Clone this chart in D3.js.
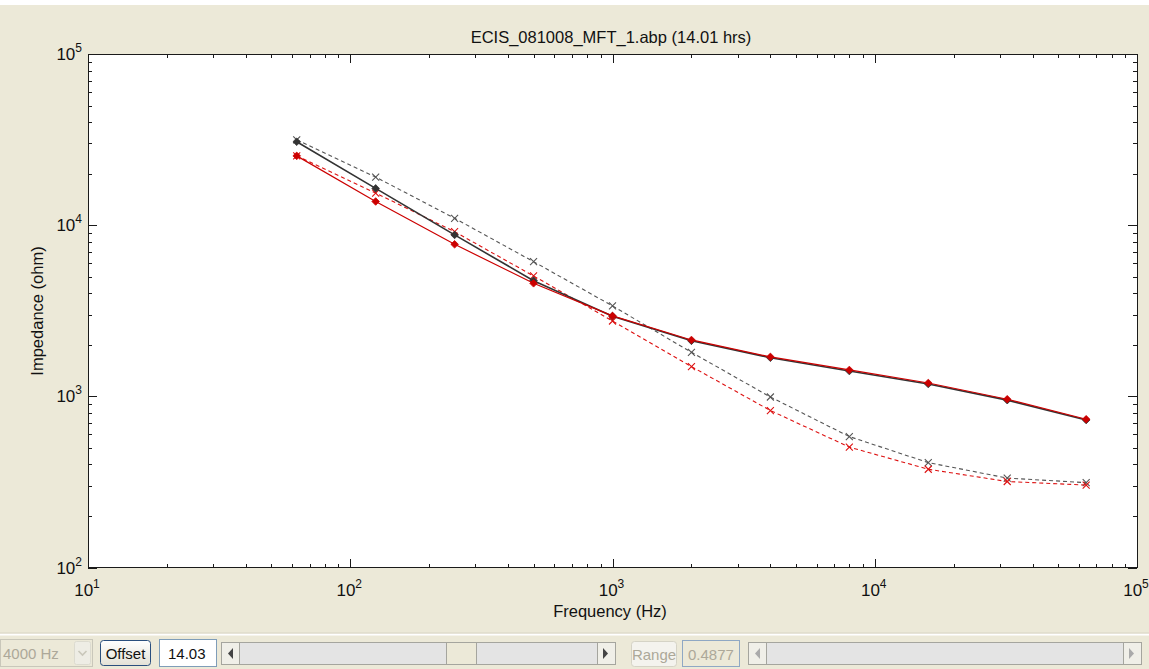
<!DOCTYPE html>
<html>
<head>
<meta charset="utf-8">
<script src="https://cdn.jsdelivr.net/npm/d3@7"></script>
<style>
  html, body { margin: 0; padding: 0; background: #ECE9D8; }
  svg { display: block; }
  text { font-family: "Liberation Sans", Arial, sans-serif; }
</style>
</head>
<body>
<svg id="chart" width="1149" height="669"></svg>
<script>
// ---- data ----
const frequencies = [62.5, 125, 250, 500, 1000, 2000, 4000, 8000, 16000, 32000, 64000];
const blackSolid = [30700, 16400, 8770, 4740, 2940, 2110, 1680, 1405, 1180, 950, 727];
const redSolid   = [25400, 13750, 7730, 4575, 2950, 2135, 1700, 1426, 1197, 962, 735];
const blackDash  = [31500, 19100, 10970, 6120, 3375, 1808, 991, 582, 410, 333, 313];
const redDash    = [25400, 15400, 9160, 5050, 2755, 1492, 826, 505, 375, 318, 303];
const xDecades = [1, 2, 3, 4, 5];
const yDecades = [2, 3, 4, 5];
const titleText = "ECIS_081008_MFT_1.abp (14.01 hrs)";
const xLabel = "Frequency (Hz)";
const yLabel = "Impedance (ohm)";

const series = [
  { name: "blackDash", values: blackDash, color: "#555555", dash: "4,3", marker: "x", w: 1.1 },
  { name: "redDash", values: redDash, color: "#dd1111", dash: "4,3", marker: "x", w: 1.1 },
  { name: "blackSolid", values: blackSolid, color: "#333333", dash: null, marker: "d", w: 1.6 },
  { name: "redSolid", values: redSolid, color: "#cc0000", dash: null, marker: "d", w: 1.2 }
];

const svg = d3.select("#chart");
svg.append("rect").attr("x", 0).attr("y", 0).attr("width", 1149).attr("height", 5).attr("fill", "#ffffff");

const L = 88, R = 1137, T = 54, B = 567.5;
const x = d3.scaleLog().domain([10, 1e5]).range([L, R]);
const y = d3.scaleLog().domain([100, 1e5]).range([B, T]);

svg.append("rect").attr("x", L).attr("y", T).attr("width", R - L).attr("height", B - T).attr("fill", "#ffffff");

function minors(d0, d1) {
  const out = [];
  for (let e = d0; e < d1; e++) for (let m = 2; m <= 9; m++) out.push(m * Math.pow(10, e));
  return out;
}
const xMajor = xDecades.map(e => Math.pow(10, e));
const yMajor = yDecades.map(e => Math.pow(10, e));
const xMinor = minors(1, 5);
const yMinor = minors(2, 5);

const axisColor = "#1a1a1a";
function styleAxis(g) {
  g.select(".domain").remove();
  g.selectAll(".tick line").attr("stroke", axisColor).attr("shape-rendering", "crispEdges");
  g.selectAll(".tick text").remove();
}
svg.append("g").attr("transform", `translate(0,${B})`).call(d3.axisBottom(x).tickValues(xMinor).tickSize(-4).tickFormat("")).call(styleAxis);
svg.append("g").attr("transform", `translate(0,${B})`).call(d3.axisBottom(x).tickValues(xMajor).tickSize(-9).tickFormat("")).call(styleAxis);
svg.append("g").attr("transform", `translate(0,${T})`).call(d3.axisTop(x).tickValues(xMinor).tickSize(-4).tickFormat("")).call(styleAxis);
svg.append("g").attr("transform", `translate(0,${T})`).call(d3.axisTop(x).tickValues(xMajor).tickSize(-9).tickFormat("")).call(styleAxis);
svg.append("g").attr("transform", `translate(${L},0)`).call(d3.axisLeft(y).tickValues(yMinor).tickSize(-4).tickFormat("")).call(styleAxis);
svg.append("g").attr("transform", `translate(${L},0)`).call(d3.axisLeft(y).tickValues(yMajor).tickSize(-9).tickFormat("")).call(styleAxis);
svg.append("g").attr("transform", `translate(${R},0)`).call(d3.axisRight(y).tickValues(yMinor).tickSize(-4).tickFormat("")).call(styleAxis);
svg.append("g").attr("transform", `translate(${R},0)`).call(d3.axisRight(y).tickValues(yMajor).tickSize(-9).tickFormat("")).call(styleAxis);

svg.append("rect").attr("x", L).attr("y", T).attr("width", R - L).attr("height", B - T)
  .attr("fill", "none").attr("stroke", axisColor).attr("shape-rendering", "crispEdges");

xDecades.forEach(e => {
  const t = svg.append("text").attr("x", x(Math.pow(10, e)) - 1).attr("y", 596)
    .attr("text-anchor", "middle").attr("font-size", 17).attr("fill", "#111");
  t.append("tspan").text("10");
  t.append("tspan").attr("font-size", 12).attr("dy", -8).text(e);
});
yDecades.forEach(e => {
  const t = svg.append("text").attr("x", 82).attr("y", y(Math.pow(10, e)) + 6)
    .attr("text-anchor", "end").attr("font-size", 17).attr("fill", "#111");
  t.append("tspan").text("10");
  t.append("tspan").attr("font-size", 12).attr("dy", -8).text(e);
});

svg.append("text").attr("x", 611).attr("y", 43).attr("text-anchor", "middle")
  .attr("font-size", 16.5).attr("fill", "#111").text(titleText);
svg.append("text").attr("x", 610).attr("y", 617).attr("text-anchor", "middle")
  .attr("font-size", 16.5).attr("fill", "#111").text(xLabel);
svg.append("text").attr("transform", "translate(43,311) rotate(-90)").attr("text-anchor", "middle")
  .attr("font-size", 16.5).attr("fill", "#111").text(yLabel);

const line = d3.line().x(d => x(d[0])).y(d => y(d[1]));
series.forEach(s => {
  const pts = frequencies.map((f, i) => [f, s.values[i]]);
  svg.append("path").datum(pts).attr("d", line).attr("fill", "none")
    .attr("stroke", s.color).attr("stroke-width", s.w)
    .attr("stroke-dasharray", s.dash);
  const g = svg.append("g");
  pts.forEach(p => {
    const cx = x(p[0]), cy = y(p[1]);
    if (s.marker === "x") {
      const r = 3.5;
      g.append("path").attr("d", `M${cx - r},${cy - r}L${cx + r},${cy + r}M${cx - r},${cy + r}L${cx + r},${cy - r}`)
        .attr("stroke", s.color).attr("stroke-width", 1.1).attr("fill", "none");
    } else {
      const r = 3.8;
      g.append("path").attr("d", `M${cx},${cy - r}L${cx + r},${cy}L${cx},${cy + r}L${cx - r},${cy}Z`)
        .attr("fill", s.color).attr("stroke", s.color).attr("stroke-width", 0.8);
    }
  });
});

// ---- bottom control panel ----
const panel = svg.append("g");
panel.append("line").attr("x1", 0).attr("x2", 1149).attr("y1", 634.5).attr("y2", 634.5).attr("stroke", "#ffffff").attr("stroke-width", 2);
panel.append("line").attr("x1", 0).attr("x2", 1149).attr("y1", 633).attr("y2", 633).attr("stroke", "#d8d4c4").attr("stroke-width", 1);

panel.append("rect").attr("x", 0.5).attr("y", 639.5).attr("width", 92).attr("height", 27).attr("fill", "#ECE9D8").attr("stroke", "#c9c7ba");
panel.append("rect").attr("x", 74.5).attr("y", 641.5).attr("width", 16).attr("height", 23).attr("rx", 2).attr("fill", "#eeede5").attr("stroke", "#dcdbd0");
panel.append("path").attr("d", "M78.5,651 L82.5,655 L86.5,651").attr("fill", "none").attr("stroke", "#c9c7ba").attr("stroke-width", 1.6);
panel.append("text").attr("x", 3).attr("y", 659).attr("font-size", 15).attr("fill", "#aca899").text("4000 Hz");

const btnGrad = svg.append("defs").append("linearGradient").attr("id", "btn").attr("x1", 0).attr("x2", 0).attr("y1", 0).attr("y2", 1);
btnGrad.append("stop").attr("offset", "0%").attr("stop-color", "#ffffff");
btnGrad.append("stop").attr("offset", "100%").attr("stop-color", "#e3e1d6");
panel.append("rect").attr("x", 100.5).attr("y", 640.5).attr("width", 50).attr("height", 25).attr("rx", 3).attr("fill", "url(#btn)").attr("stroke", "#2a4f7e");
panel.append("text").attr("x", 125.5).attr("y", 659).attr("text-anchor", "middle").attr("font-size", 15).attr("fill", "#111").text("Offset");

panel.append("rect").attr("x", 159.5).attr("y", 639.5).attr("width", 57).attr("height", 27).attr("fill", "#ffffff").attr("stroke", "#7f9db9");
panel.append("text").attr("x", 168).attr("y", 659).attr("font-size", 15).attr("fill", "#111").text("14.03");

function scrollbar(x0, x1, thumb) {
  const g = panel.append("g");
  g.append("rect").attr("x", x0 + 0.5).attr("y", 642.5).attr("width", x1 - x0).attr("height", 22).attr("fill", "#e4e4e4").attr("stroke", "#a5a59e");
  g.append("rect").attr("x", x0 + 0.5).attr("y", 642.5).attr("width", 18).attr("height", 22).attr("fill", "#f0efe8").attr("stroke", "#a5a59e");
  g.append("path").attr("d", `M${x0 + 12},${648} L${x0 + 7},${653.5} L${x0 + 12},${659} Z`).attr("fill", thumb ? "#444" : "#aaa");
  g.append("rect").attr("x", x1 - 18 + 0.5).attr("y", 642.5).attr("width", 18).attr("height", 22).attr("fill", "#f0efe8").attr("stroke", "#a5a59e");
  g.append("path").attr("d", `M${x1 - 12},${648} L${x1 - 7},${653.5} L${x1 - 12},${659} Z`).attr("fill", thumb ? "#444" : "#aaa");
  if (thumb) {
    g.append("rect").attr("x", thumb[0] + 0.5).attr("y", 642.5).attr("width", thumb[1] - thumb[0]).attr("height", 22).attr("fill", "#ECE9D8").attr("stroke", "#a5a59e");
  }
}
scrollbar(221, 615, [446, 476]);

panel.append("rect").attr("x", 631.5).attr("y", 641.5).attr("width", 45).attr("height", 25).attr("rx", 3).attr("fill", "#f4f3ee").attr("stroke", "#d5d3c6");
panel.append("text").attr("x", 654).attr("y", 660).attr("text-anchor", "middle").attr("font-size", 15).attr("fill", "#aca899").text("Range");

panel.append("rect").attr("x", 682.5).attr("y", 640.5).attr("width", 57).attr("height", 26).attr("fill", "#ECE9D8").attr("stroke", "#8fa8c4");
panel.append("text").attr("x", 688).attr("y", 660).attr("font-size", 15).attr("fill", "#aca899").text("0.4877");

scrollbar(748, 1141, null);
</script>
</body>
</html>
